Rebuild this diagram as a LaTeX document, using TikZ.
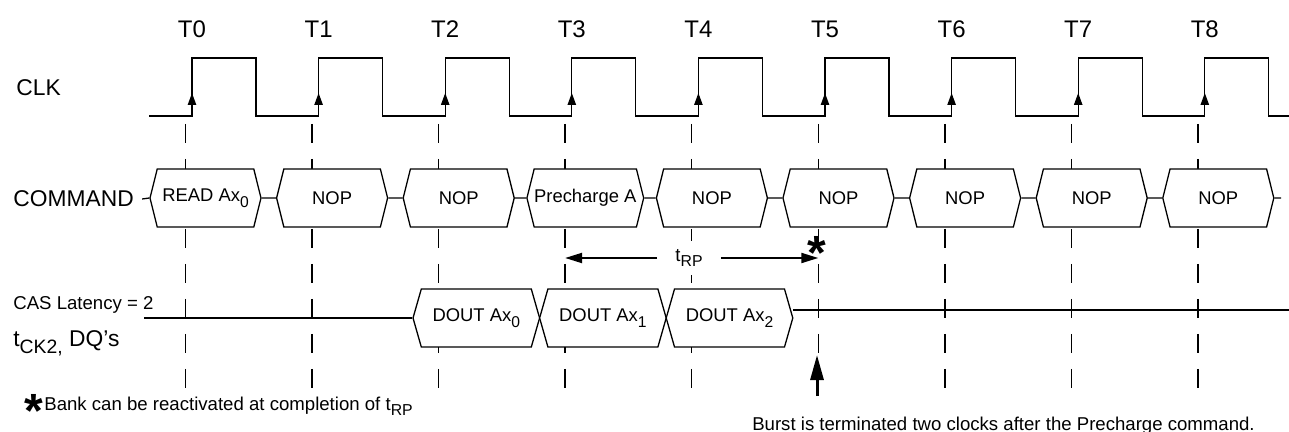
\documentclass[tikz,border=0pt]{standalone}
\usepackage{graphicx}
\usepackage{fontspec}
\setmainfont{Liberation Sans}
\usepackage{tikz}
\usetikzlibrary{arrows.meta, shapes.symbols, calc}

\newcommand{\lowsub}[1]{\raisebox{-0.3em}{\scalebox{0.85}{#1}}}

\begin{document}
\begin{tikzpicture}[
  x=0.5pt, y=-0.5pt,
  cmd/.style={signal, signal to=west and east, signal pointer angle=152,
              draw, fill=white, line width=0.65pt,
              minimum width=55.5pt, minimum height=29pt, inner sep=0pt,
              font=\fontsize{9.2}{11}\selectfont},
  dout/.style={cmd, signal pointer angle=148, minimum width=63.3pt},
  sig/.style={anchor=west, inner sep=0pt, font=\fontsize{11.4}{13}\selectfont},
  tlabel/.style={inner sep=0pt, font=\fontsize{12}{14}\selectfont},
  note/.style={inner sep=0pt, font=\fontsize{9.3}{11}\selectfont},
  starmark/.style={inner sep=0pt, anchor=base, font=\fontsize{24}{24}\selectfont\bfseries},
  guide/.style={line width=0.65pt, dash pattern=on 9.5pt off 8pt},
  bus/.style={line width=0.65pt},
  clk/.style={line width=0.65pt},
  edgetip/.style={line width=0.65pt, -{Triangle[length=6pt, width=4.2pt]}},
  dim/.style={line width=1pt, -{Triangle[length=8.5pt, width=5pt]}},
  bigarrow/.style={line width=1.5pt, -{Triangle[length=12.5pt, width=6.5pt]}}
]
\fill[white] (0,0) rectangle (1289,432);
\useasboundingbox (0,0) rectangle (1289,432);

% clock edges, guide lines and T labels
\foreach \i in {0,...,8} {
  \pgfmathsetmacro{\ex}{192+126.6*\i}
  \draw[guide] ({\ex-6.7},124) -- ({\ex-6.7},392);
  \coordinate (g\i) at ({\ex-6.7},124);
  \draw[edgetip] (\ex,116) -- (\ex,93);
  \node[tlabel] (t\i) at (\ex,29) {T\i};
}
\draw[clk] (149,116)
  \foreach \i in {0,...,8} { -- ({192+126.6*\i},116) -- ++(0,-58) -- ++(64,0) -- ++(0,58) }
  -- (1289,116);

% signal names
\node[sig] (clklbl) at (16,87.5) {CLK};
\node[sig] (cmdlbl) at (13,199) {COMMAND};
\node[note, anchor=base west] (caslbl) at (13,310) {CAS Latency = 2};
\node[sig, anchor=base west] (dqlbl) at (13,347) {t\lowsub{CK2,} DQ's};

% command bus
\node[cmd] (c0) at (205.5,198) {READ Ax\lowsub{0}};
\node[cmd] (c1) at (332.1,198) {NOP};
\node[cmd] (c2) at (458.7,198) {NOP};
\node[cmd] (c3) at (585.3,198) {Precharge A};
\node[cmd] (c4) at (711.9,198) {NOP};
\node[cmd] (c5) at (838.5,198) {NOP};
\node[cmd] (c6) at (965.1,198) {NOP};
\node[cmd] (c7) at (1091.7,198) {NOP};
\node[cmd] (c8) at (1218.3,198) {NOP};
\coordinate (cmdend) at (1281,198);

\draw[bus] ([xshift=4pt]cmdlbl.east) -- (c0.west)
  (c0.east) -- (c1.west) (c1.east) -- (c2.west) (c2.east) -- (c3.west)
  (c3.east) -- (c4.west) (c4.east) -- (c5.west) (c5.east) -- (c6.west)
  (c6.east) -- (c7.west) (c7.east) -- (c8.west) (c8.east) -- (cmdend);

% data bus
\node[dout] (d0) at (476.3,318) {DOUT Ax\lowsub{0}};
\node[dout] (d1) at (602.9,318) {DOUT Ax\lowsub{1}};
\node[dout] (d2) at (729.5,318) {DOUT Ax\lowsub{2}};
\coordinate (dqstart) at (144,318);
\coordinate (dqend) at (1289,310);

\draw[bus] (dqstart) -- (d0.west);
\draw[bus] (d2.east |- dqend) -- (dqend);

% precharge time
\node[note, fill=white, inner xsep=9pt, inner ysep=4pt] (trp) at (689,258) {t\lowsub{RP}};
\draw[dim] (trp.west) -- (trp.west -| g3);
\draw[dim] (trp.east) -- (trp.east -| g5);
\node[starmark] (rpstar) at (817,270) {*};

% notes
\node[starmark] (bankstar) at (34,427) {*};
\node[note, anchor=base west] (bank) at (44,410) {Bank can be reactivated at completion of t\lowsub{RP}};

\coordinate (burstfoot) at (817,396);
\coordinate (bursttip) at (817,355);
\draw[bigarrow] (burstfoot) -- (bursttip);
\node[note, anchor=base] (burst) at (1003.5,430) {Burst is terminated two clocks after the Precharge command.};

\end{tikzpicture}
\end{document}
